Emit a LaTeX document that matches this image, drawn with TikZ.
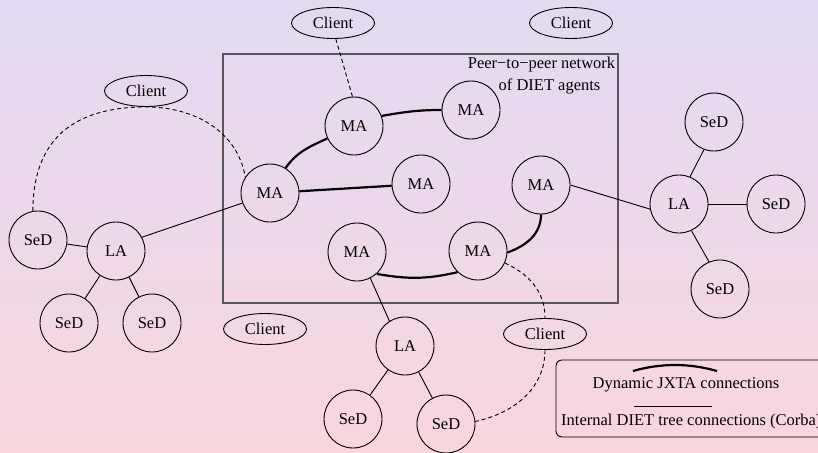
\documentclass[tikz,border=0pt]{standalone}
\usepackage{fontspec}
\setmainfont{Liberation Serif}
\usetikzlibrary{shapes.geometric}
\definecolor{bgtop}{RGB}{226,218,243}
\definecolor{bgbot}{RGB}{249,214,222}
\definecolor{boxgray}{RGB}{88,88,88}
\begin{document}
\begin{tikzpicture}[x=1pt,y=-1pt,
  font=\fontsize{16.5}{19}\selectfont,
  agent/.style={circle, draw, line width=0.9pt, minimum size=58pt, inner sep=0pt},
  client/.style={ellipse, draw, line width=0.9pt, minimum width=83pt, minimum height=31pt, inner sep=0pt},
  jxta/.style={line width=2.2pt},
  tree/.style={line width=0.9pt},
  dashlink/.style={line width=0.9pt, dash pattern=on 4pt off 3pt},
  label/.style={inner sep=0pt}]
\shade[top color=bgtop, bottom color=bgbot] (0,0) rectangle (818,452);
\useasboundingbox (0,0) rectangle (818,452);

% peer-to-peer box
\node[draw=boxgray, line width=1.4pt, minimum width=395pt, minimum height=249pt, inner sep=0pt] (p2p) at (420.5,178.5) {};
\node[label] (t1) at (541.5,65) {Peer−to−peer network};
\node[label] (t2) at (549.5,86) {of DIET agents};

% agents
\node[agent] (mat)  at (354,126) {MA};
\node[agent] (matr) at (471,110) {MA};
\node[agent] (mal)  at (270,193) {MA};
\node[agent] (mam)  at (421,184) {MA};
\node[agent] (mar)  at (541,185) {MA};
\node[agent] (mabl) at (357,252) {MA};
\node[agent] (mabr) at (478,251) {MA};

\node[agent] (lar)   at (679,204) {LA};
\node[agent] (sedtr) at (714,122) {SeD};
\node[agent] (sedr)  at (776,204) {SeD};
\node[agent] (sedbr) at (720,289) {SeD};

\node[agent] (sedl)   at (38,240)  {SeD};
\node[agent] (lal)    at (116,251) {LA};
\node[agent] (sedbl1) at (69,323)  {SeD};
\node[agent] (sedbl2) at (152,323) {SeD};

\node[agent] (lab)   at (405,346) {LA};
\node[agent] (sedb1) at (353,419) {SeD};
\node[agent] (sedb2) at (446,424) {SeD};

% clients
\node[client] (ct)  at (333,23)  {Client};
\node[client] (ctr) at (571,23)  {Client};
\node[client] (cl)  at (146,91)  {Client};
\node[client] (cbl) at (265,329) {Client};
\node[client] (cbr) at (545,334) {Client};

% JXTA connections
\draw[jxta] (mal.58) to[out=55,in=205] (mat.205);
\draw[jxta] (mat.20) to[out=10,in=180] (matr.west);
\draw[jxta] (mal) -- (mam);
\draw[jxta] (mar.south) to[out=-90,in=20] (mabr.-3);
\draw[jxta] (mabl.-48) to[out=-10,in=193] (mabr.226);

% tree connections
\draw[tree] (lal.28) -- (mal.200);
\draw[tree] (sedl) -- (lal);
\draw[tree] (lal) -- (sedbl1);
\draw[tree] (lal) -- (sedbl2);
\draw[tree] (mar.0) -- (lar.190);
\draw[tree] (lar.68) -- (sedtr.250);
\draw[tree] (lar) -- (sedr);
\draw[tree] (lar.-65) -- (sedbr.112);
\draw[tree] (mabl.-63) -- (lab.122);
\draw[tree] (lab) -- (sedb1);
\draw[tree] (lab) -- (sedb2);

% client links
\draw[dashlink] (ct.-80) -- (mat.93);
\draw[dashlink] (sedl.100) to[out=90,in=180,looseness=1.2] (cl.south) to[out=0,in=100] (mal.147);
\draw[dashlink] (mabr.-24) to[out=-25,in=90] (cbr.north);
\draw[dashlink] (cbr.south) to[out=-90,in=12] (sedb2.5);

% legend
\node[draw, line width=0.9pt, rounded corners=6pt, minimum width=268pt, minimum height=77pt, inner sep=0pt] (legend) at (690,398.5) {};
\coordinate (ja) at (633,371);
\coordinate (jb) at (717,371);
\draw[jxta] (ja) .. controls (661,363) and (689,363) .. (jb);
\node[label] (lj) at (686,385) {Dynamic JXTA connections};
\coordinate (ta) at (634,406);
\coordinate (tb) at (712,406);
\draw[tree] (ta) -- (tb);
\node[label, anchor=west] (lc) at (561,422) {Internal DIET tree connections (Corba)};
\end{tikzpicture}
\end{document}
